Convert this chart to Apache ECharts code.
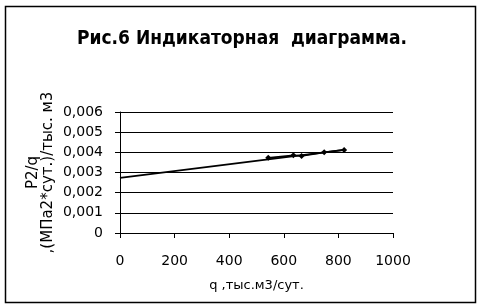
<!DOCTYPE html>
<html><head><meta charset="utf-8">
<script src="https://cdn.jsdelivr.net/npm/echarts@6/dist/echarts.min.js"></script>
<style>html,body{margin:0;padding:0;background:#fff}#c{width:484px;height:308px}</style>
</head><body><div id="c"></div>
<script>
var titleText = 'Рис.6 Индикаторная  диаграмма.';
var xName = 'q ,тыс.м3/сут.';
var yName = 'P2/q\n,(МПа2*сут.)/тыс. м3';
var qValues = [543, 635, 665, 748, 821];
var pqValues = [0.00373, 0.00385, 0.00382, 0.00400, 0.00412];
var trendX = [0, 821];
var trendY = [0.00273, 0.00412];
var xTicks = [0, 200, 400, 600, 800, 1000];
var yTicks = [0, 0.001, 0.002, 0.003, 0.004, 0.005, 0.006];

var chart = echarts.init(document.getElementById('c'), null, {renderer: 'canvas'});
var font = 'DejaVu Sans';
chart.setOption({
  animation: false,
  backgroundColor: '#fff',
  title: {
    text: titleText, left: 'center', top: 25,
    textStyle: {fontFamily: 'DejaVu Sans Condensed', fontWeight: 'bold', fontSize: 19, color: '#000'}
  },
  graphic: [{type: 'rect', shape: {x: 5.5, y: 6.5, width: 470, height: 296}, style: {fill: null, stroke: '#000', lineWidth: 1.5}, silent: true}],
  grid: {left: 120, right: 91, top: 112, bottom: 75, containLabel: false},
  xAxis: {
    type: 'value', min: xTicks[0], max: xTicks[xTicks.length - 1], interval: 200,
    name: xName, nameLocation: 'middle', nameGap: 46, nameMoveOverlap: false,
    nameTextStyle: {fontFamily: font, fontSize: 13, color: '#000'},
    axisLine: {lineStyle: {color: '#000', width: 1}},
    axisTick: {inside: false, length: 5, lineStyle: {color: '#000'}},
    axisLabel: {fontFamily: font, fontSize: 14, color: '#000', margin: 21,
      formatter: function (v) { return String(v); }},
    splitLine: {show: false}
  },
  yAxis: {
    type: 'value', min: yTicks[0], max: yTicks[yTicks.length - 1], interval: 0.001,
    name: yName, nameLocation: 'middle', nameGap: 64, nameRotate: 90, nameMoveOverlap: false,
    nameTextStyle: {fontFamily: font, fontSize: 15, color: '#000', lineHeight: 15},
    axisLine: {show: true, lineStyle: {color: '#000', width: 1}},
    axisTick: {show: true, length: 5, lineStyle: {color: '#000'}},
    axisLabel: {fontFamily: font, fontSize: 14, color: '#000', margin: 17,
      formatter: function (v) { return v === 0 ? '0' : v.toFixed(3).replace('.', ','); }},
    splitLine: {show: true, lineStyle: {color: '#000', width: 1}}
  },
  series: [
    {type: 'line', data: trendX.map(function (x, i) { return [x, trendY[i]]; }),
     symbol: 'none', lineStyle: {color: '#000', width: 1.8}, z: 2},
    {type: 'line', data: qValues.map(function (x, i) { return [x, pqValues[i]]; }),
     symbol: 'diamond', symbolSize: 6, itemStyle: {color: '#000'},
     lineStyle: {color: '#000', width: 1.8}, z: 3}
  ]
});
</script></body></html>
